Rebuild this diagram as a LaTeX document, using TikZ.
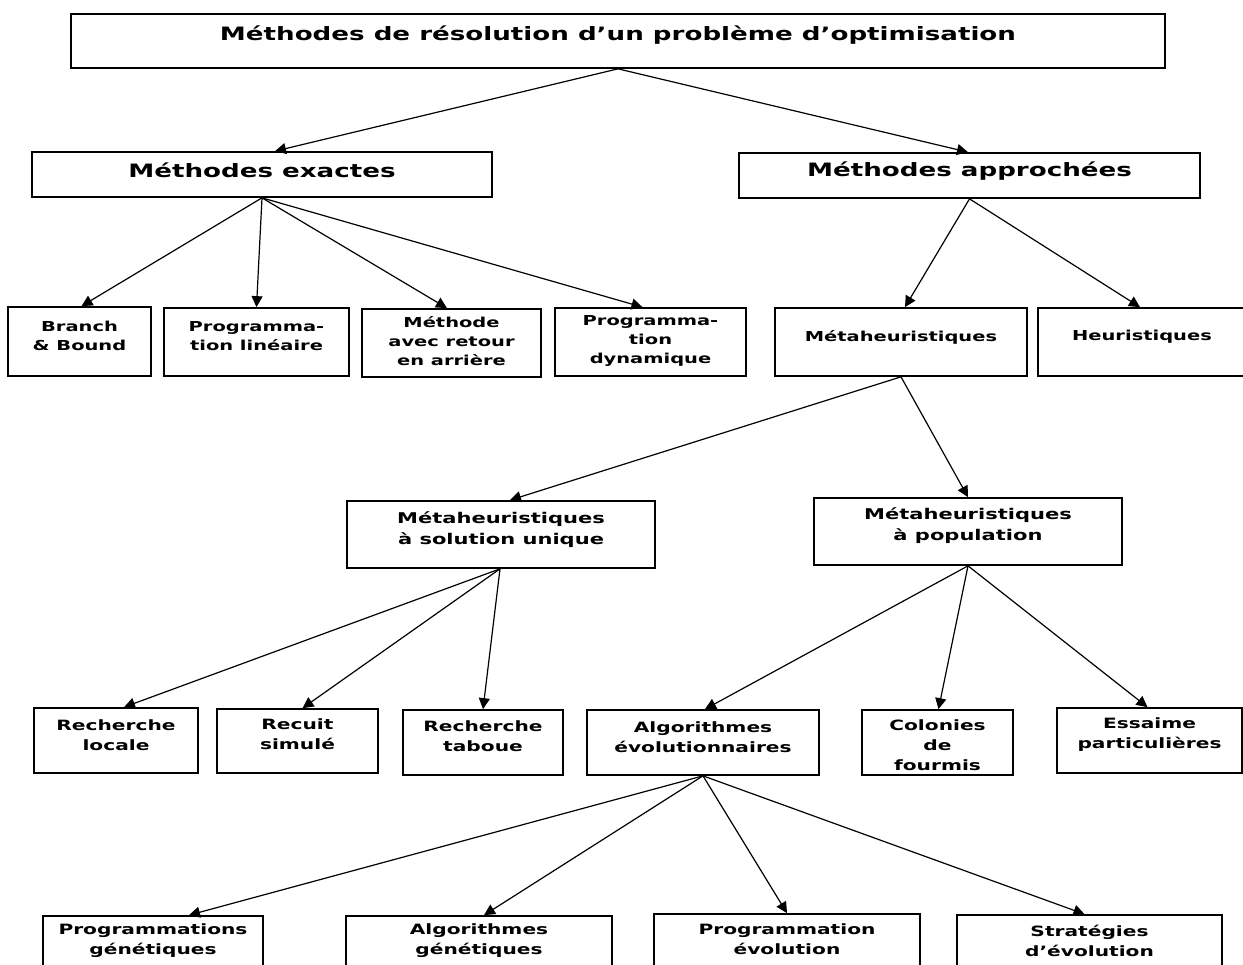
\documentclass[tikz,border=0pt]{standalone}
\usepackage{fontspec}
\setmainfont{DejaVu Sans}[FakeStretch=1.42]
\usetikzlibrary{arrows.meta}
\tikzset{
  box/.style={draw, line width=1.7pt, inner sep=0pt},
  lbl/.style={align=center, inner sep=0pt},
  fbig/.style={lbl, font=\bfseries\fontsize{18.4}{25}\selectfont},
  fmid/.style={lbl, font=\bfseries\fontsize{14.8}{21}\selectfont},
  fsmall/.style={lbl, font=\bfseries\fontsize{13.7}{19.3}\selectfont},
  fleaf/.style={lbl, font=\bfseries\fontsize{14.2}{20}\selectfont},
  arr/.style={-{Triangle[length=11pt,width=11pt]}, line width=1.2pt},
}
\begin{document}
\begin{tikzpicture}[x=1pt, y=-1pt]
\useasboundingbox (0,0) rectangle (1243,965);
\clip (0,0) rectangle (1243,965);

% root
\node[box, minimum width=1094pt, minimum height=54pt] (top) at (618,41) {};
\node[fbig] (ttop) at (618,35) {Méthodes de résolution d’un problème d’optimisation};

% first level
\node[box, minimum width=460pt, minimum height=45pt] (mex) at (262,174.5) {};
\node[fbig] (tmex) at (262,170) {Méthodes exactes};
\node[box, minimum width=461pt, minimum height=45pt] (map) at (969.5,175.5) {};
\node[fbig] (tmap) at (969.5,171) {Méthodes approchées};

% exact methods
\node[box, minimum width=143pt, minimum height=69pt] (bb) at (79.5,341.5) {};
\node[fsmall] (tbb) at (79.5,336) {Branch\\\& Bound};
\node[box, minimum width=185pt, minimum height=68pt] (pl) at (256.5,342) {};
\node[fsmall] (tpl) at (256.5,336) {Programma-\\tion linéaire};
\node[box, minimum width=179pt, minimum height=68pt] (mr) at (451.5,343) {};
\node[fsmall] (tmr) at (451.5,341) {Méthode\\avec retour\\en arrière};
\node[box, minimum width=191pt, minimum height=68pt] (pd) at (650.5,342) {};
\node[fsmall] (tpd) at (650.5,341) {Programma-\\tion\\dynamique};

% approximate methods
\node[box, minimum width=252pt, minimum height=68pt] (meta) at (901,342) {};
\node[fsmall] (tmeta) at (901,337) {Métaheuristiques};
\node[box, minimum width=212pt, minimum height=68pt] (heur) at (1144,342) {};
\node[fsmall] (theur) at (1142,337) {Heuristiques};

% metaheuristic families
\node[box, minimum width=308pt, minimum height=67pt] (msu) at (501,534.5) {};
\node[fmid] (tmsu) at (501,529.5) {Métaheuristiques\\à solution unique};
\node[box, minimum width=308pt, minimum height=67pt] (mp) at (968,531.5) {};
\node[fmid] (tmp) at (968,526) {Métaheuristiques\\à population};

% single-solution methods
\node[box, minimum width=164pt, minimum height=65pt] (rl) at (116,740.5) {};
\node[fleaf] (trl) at (116,735) {Recherche\\locale};
\node[box, minimum width=161pt, minimum height=64pt] (rs) at (297.5,741) {};
\node[fleaf] (trs) at (297.5,734.5) {Recuit\\simulé};
\node[box, minimum width=160pt, minimum height=65pt] (rt) at (483,742.5) {};
\node[fleaf] (trt) at (483,736.5) {Recherche\\taboue};

% population methods
\node[box, minimum width=232pt, minimum height=65pt] (ae) at (703,742.5) {};
\node[fleaf] (tae) at (703,737) {Algorithmes\\évolutionnaires};
\node[box, minimum width=151pt, minimum height=65pt] (cf) at (937.5,742.5) {};
\node[fleaf] (tcf) at (937.5,745) {Colonies\\de\\fourmis};
\node[box, minimum width=185pt, minimum height=65pt] (ep) at (1149.5,740.5) {};
\node[fleaf] (tep) at (1149.5,735) {Essaime\\particulières};

% evolutionary algorithms
\node[box, minimum width=220pt, minimum height=84pt] (pg) at (153,958) {};
\node[fleaf] (tpg) at (153,940.5) {Programmations\\génétiques};
\node[box, minimum width=266pt, minimum height=84pt] (ag) at (479,958) {};
\node[fleaf] (tag) at (479,940.5) {Algorithmes\\génétiques};
\node[box, minimum width=266pt, minimum height=86pt] (pe) at (787,957) {};
\node[fleaf] (tpe) at (787,939.5) {Programmation\\évolution};
\node[box, minimum width=265pt, minimum height=85pt] (se) at (1089.5,957.5) {};
\node[fleaf] (tse) at (1089.5,940.5) {Stratégies\\d’évolution};

% connectors
\draw[arr] (top.south) -- ([xshift=13pt]mex.north);
\draw[arr] (top.south) -- ([xshift=-1.5pt]map.north);

\draw[arr] (mex.south) -- ([xshift=2pt]bb.north);
\draw[arr] (mex.south) -- (pl.north);
\draw[arr] (mex.south) -- ([xshift=-4.5pt]mr.north);
\draw[arr] (mex.south) -- ([xshift=-8pt]pd.north);

\draw[arr] (map.south) -- ([xshift=4pt]meta.north);
\draw[arr] (map.south) -- ([xshift=-4pt]heur.north);

\draw[arr] (meta.south) -- ([xshift=9pt]msu.north);
\draw[arr] (meta.south) -- (mp.north);

\draw[arr] ([xshift=-1pt]msu.south) -- ([xshift=8pt]rl.north);
\draw[arr] ([xshift=-1pt]msu.south) -- ([xshift=5pt]rs.north);
\draw[arr] ([xshift=-1pt]msu.south) -- (rt.north);

\draw[arr] (mp.south) -- ([xshift=2pt]ae.north);
\draw[arr] (mp.south) -- ([xshift=1pt]cf.north);
\draw[arr] (mp.south) -- ([xshift=-2pt]ep.north);

\draw[arr] (ae.south) -- ([xshift=36pt]pg.north);
\draw[arr] (ae.south) -- ([xshift=5pt]ag.north);
\draw[arr] (ae.south) -- (pe.north);
\draw[arr] (ae.south) -- ([xshift=-5pt]se.north);
\end{tikzpicture}
\end{document}
